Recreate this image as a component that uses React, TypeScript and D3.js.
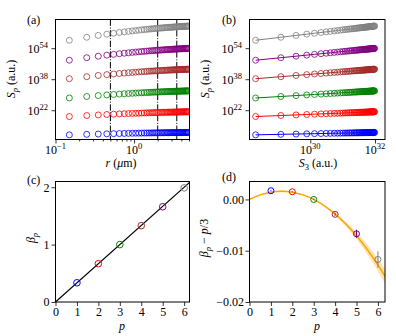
import React, { useEffect, useRef } from "react";
import * as d3 from "d3";

const WIDTH = 396;
const HEIGHT = 336;
const FONT = "'Liberation Serif', 'DejaVu Serif', serif";

// separations r (µm)
const rValues = [
  0.15, 0.25, 0.35, 0.45, 0.55, 0.65, 0.75, 0.85, 0.95,
  1.05, 1.15, 1.25, 1.35, 1.45, 1.55, 1.65, 1.75, 1.85, 1.95,
  2.05, 2.15, 2.25, 2.35, 2.45, 2.55, 2.65, 2.75, 2.85, 2.95,
  3.05, 3.15, 3.25, 3.35, 3.45, 3.55, 3.65, 3.75, 3.85, 3.95,
  4.05, 4.15, 4.25, 4.35, 4.45, 4.55, 4.65, 4.75, 4.85, 4.95,
];

// log10 S_p (a.u.), p = 1..6
const logS1 = [
  9.3, 9.57, 9.72, 9.83, 9.91, 9.98, 10.03, 10.08, 10.12,
  10.15, 10.18, 10.21, 10.23, 10.25, 10.27, 10.29, 10.31, 10.32, 10.34,
  10.35, 10.36, 10.37, 10.38, 10.39, 10.4, 10.41, 10.42, 10.43, 10.44,
  10.44, 10.45, 10.46, 10.46, 10.47, 10.47, 10.48, 10.49, 10.49, 10.5,
  10.5, 10.5, 10.51, 10.51, 10.52, 10.52, 10.52, 10.53, 10.53, 10.54,
];
const logS2 = [
  18.75, 19.27, 19.58, 19.8, 19.96, 20.1, 20.2, 20.29, 20.37,
  20.44, 20.5, 20.55, 20.6, 20.64, 20.68, 20.71, 20.74, 20.78, 20.8,
  20.83, 20.85, 20.88, 20.9, 20.92, 20.94, 20.96, 20.97, 20.99, 21.01,
  21.02, 21.03, 21.05, 21.06, 21.07, 21.08, 21.09, 21.11, 21.11, 21.13,
  21.13, 21.14, 21.15, 21.16, 21.17, 21.17, 21.18, 21.19, 21.19, 21.21,
];
const logS3 = [
  28.31, 29.09, 29.56, 29.89, 30.13, 30.33, 30.49, 30.62, 30.74,
  30.84, 30.93, 31.01, 31.08, 31.14, 31.2, 31.25, 31.3, 31.35, 31.39,
  31.43, 31.46, 31.5, 31.53, 31.56, 31.59, 31.62, 31.64, 31.67, 31.69,
  31.71, 31.73, 31.75, 31.77, 31.79, 31.8, 31.82, 31.84, 31.85, 31.87,
  31.88, 31.89, 31.91, 31.92, 31.93, 31.94, 31.95, 31.96, 31.97, 31.99,
];
const logS4 = [
  38.26, 39.3, 39.93, 40.37, 40.69, 40.95, 41.16, 41.34, 41.5,
  41.63, 41.75, 41.86, 41.95, 42.03, 42.11, 42.18, 42.24, 42.31, 42.36,
  42.41, 42.45, 42.51, 42.55, 42.59, 42.63, 42.67, 42.69, 42.73, 42.76,
  42.79, 42.81, 42.84, 42.87, 42.89, 42.91, 42.93, 42.96, 42.97, 43.0,
  43.01, 43.03, 43.05, 43.07, 43.08, 43.09, 43.11, 43.12, 43.13, 43.16,
];
const logS5 = [
  47.8, 49.09, 49.87, 50.42, 50.82, 51.15, 51.41, 51.63, 51.83,
  52.0, 52.14, 52.28, 52.39, 52.49, 52.59, 52.68, 52.76, 52.84, 52.91,
  52.97, 53.02, 53.09, 53.14, 53.19, 53.24, 53.29, 53.32, 53.37, 53.41,
  53.44, 53.47, 53.51, 53.54, 53.57, 53.59, 53.62, 53.66, 53.67, 53.7,
  53.72, 53.74, 53.77, 53.79, 53.8, 53.82, 53.84, 53.85, 53.87, 53.9,
];
const logS6 = [
  58.09, 59.64, 60.58, 61.23, 61.71, 62.11, 62.43, 62.68, 62.92,
  63.12, 63.3, 63.46, 63.6, 63.72, 63.84, 63.94, 64.04, 64.14, 64.22,
  64.3, 64.36, 64.43, 64.49, 64.55, 64.61, 64.67, 64.71, 64.77, 64.81,
  64.85, 64.89, 64.93, 64.97, 65.01, 65.03, 65.07, 65.11, 65.13, 65.17,
  65.19, 65.21, 65.25, 65.27, 65.29, 65.31, 65.33, 65.35, 65.37, 65.41,
];

const orders = [1, 2, 3, 4, 5, 6];
const orderColors = ["#0000ff", "#ff0000", "#008000", "#a52a2a", "#800080", "#808080"];

// scaling exponents
const betaValues = [0.335, 0.6682, 1.0, 1.3304, 1.66, 1.9883];
const betaDeviation = [0.0017, 0.0015, 0.0, -0.0029, -0.0067, -0.0117];
const betaDeviationErr = [0.0001, 0.0001, 0.00015, 0.0003, 0.0008, 0.0016];

// vertical dash-dot markers in (a)
const markerR = [0.5, 2, 3.5];

// K41 reference line in (c)
const k41P = [0, 6.3];
const k41Beta = [0, 2.1];

// fit of the deviation in (d)
const fitP = [0, 0.5, 1, 1.5, 2, 2.5, 3, 3.5, 4, 4.5, 5, 5.5, 6, 6.5];
const fitMid = [0, 0.00089, 0.00142, 0.0016, 0.00142, 0.00089, 0, -0.00124, -0.00284, -0.00479, -0.0071, -0.00976, -0.01278, -0.01615];
const fitLow = [-0.0001, 0.00077, 0.00129, 0.00145, 0.00129, 0.00077, -0.00012, -0.00136, -0.00311, -0.00524, -0.00777, -0.01068, -0.01398, -0.01767];
const fitHigh = [0.0001, 0.00101, 0.00155, 0.00175, 0.00155, 0.00101, 0.00012, -0.00112, -0.00257, -0.00434, -0.00643, -0.00884, -0.01158, -0.01463];

const expTicksS = [22, 38, 54];
const expTicksR = [-1, 0];
const expTicksS3 = [30, 32];
const ticksP = [0, 1, 2, 3, 4, 5, 6];
const ticksBeta = [0, 1, 2];
const ticksDev = [0, -0.01, -0.02];

type Sel = d3.Selection<any, any, any, any>;

function styleAxis(g: Sel) {
  g.select(".domain").remove();
  g.selectAll(".tick line").attr("stroke", "#000").attr("stroke-width", 0.8);
  g.selectAll(".tick text").attr("fill", "#000").attr("font-family", FONT).attr("font-size", 12);
}

function powLabel(g: Sel, x: number, y: number, exp: number, anchor: string) {
  const t = g
    .append("text")
    .attr("x", x)
    .attr("y", y)
    .attr("text-anchor", anchor)
    .attr("font-family", FONT)
    .attr("font-size", 12)
    .attr("fill", "#000");
  t.append("tspan").text("10");
  t.append("tspan").attr("dy", -5).attr("font-size", 8.5).text(exp < 0 ? `\u2212${-exp}` : `${exp}`);
}

function frame(g: Sel, x: any, y: any) {
  const [x0, x1] = x.range();
  const [y0, y1] = y.range();
  g.append("rect")
    .attr("x", x0)
    .attr("y", y1)
    .attr("width", x1 - x0)
    .attr("height", y0 - y1)
    .attr("fill", "none")
    .attr("stroke", "#000")
    .attr("stroke-width", 1);
}

function clip(svg: Sel, id: string, x: any, y: any) {
  const [x0, x1] = x.range();
  const [y0, y1] = y.range();
  svg.append("clipPath").attr("id", id).append("rect")
    .attr("x", x0).attr("y", y1).attr("width", x1 - x0).attr("height", y0 - y1);
}

function panelLabel(g: Sel, x: number, y: number, s: string) {
  g.append("text").attr("x", x).attr("y", y).attr("font-family", FONT).attr("font-size", 12).text(s);
}

export default function App() {
  const ref = useRef<SVGSVGElement>(null);

  useEffect(() => {
    if (!ref.current) return;
    const svg = d3.select(ref.current);
    svg.selectAll("*").remove();
    const series = [logS1, logS2, logS3, logS4, logS5, logS6];

    // ---------- (a) S_p vs r ----------
    const xA = d3.scaleLog().domain([0.1, 5.08]).range([55.5, 189.5]);
    const yA = d3.scaleLog().domain([10 ** 6.9, 10 ** 68.8]).range([139.5, 19.5]);
    clip(svg, "clipA", xA, yA);
    const gA = svg.append("g");
    const inA = gA.append("g").attr("clip-path", "url(#clipA)");

    inA.selectAll("line.mark")
      .data(markerR)
      .join("line")
      .attr("x1", (d) => xA(d))
      .attr("x2", (d) => xA(d))
      .attr("y1", 19.5)
      .attr("y2", 139.5)
      .attr("stroke", "#000")
      .attr("stroke-width", 1)
      .attr("stroke-dasharray", "6.4,1.6,1,1.6");

    series.forEach((s, k) => {
      inA.append("g")
        .selectAll("circle")
        .data(s)
        .join("circle")
        .attr("cx", (_, i) => xA(rValues[i]))
        .attr("cy", (d) => yA(10 ** d))
        .attr("r", 3)
        .attr("fill", "none")
        .attr("stroke", orderColors[k])
        .attr("stroke-width", 0.8);
    });
    frame(gA, xA, yA);

    const minorR = xA.ticks().filter((t) => ![0.1, 1].includes(+t.toFixed(6)));
    gA.append("g")
      .attr("transform", "translate(0,139.5)")
      .call(d3.axisBottom(xA).tickValues(minorR).tickSize(2).tickFormat(() => ""))
      .call(styleAxis);
    gA.append("g")
      .attr("transform", "translate(0,139.5)")
      .call(d3.axisBottom(xA).tickValues(expTicksR.map((e) => 10 ** e)).tickSize(4).tickFormat(() => ""))
      .call(styleAxis);
    expTicksR.forEach((e) => powLabel(gA, xA(10 ** e), 154, e, "middle"));
    gA.append("g")
      .attr("transform", "translate(55.5,0)")
      .call(d3.axisLeft(yA).tickValues(expTicksS.map((e) => 10 ** e)).tickSize(4).tickFormat(() => ""))
      .call(styleAxis);
    expTicksS.forEach((e) => powLabel(gA, 48, yA(10 ** e) + 5, e, "end"));

    const ylA = gA.append("text")
      .attr("transform", "translate(15,79) rotate(-90)")
      .attr("text-anchor", "middle")
      .attr("font-family", FONT)
      .attr("font-size", 12);
    ylA.append("tspan").attr("font-style", "italic").text("S");
    ylA.append("tspan").attr("font-style", "italic").attr("font-size", 8.5).attr("dy", 2.5).text("p");
    ylA.append("tspan").attr("dy", -2.5).text(" (a.u.)");

    const xlA = gA.append("text")
      .attr("x", 121)
      .attr("y", 167)
      .attr("text-anchor", "middle")
      .attr("font-family", FONT)
      .attr("font-size", 12);
    xlA.append("tspan").attr("font-style", "italic").text("r");
    xlA.append("tspan").text(" (");
    xlA.append("tspan").attr("font-style", "italic").text("\u03bc");
    xlA.append("tspan").text("m)");
    panelLabel(gA, 27, 24, "(a)");

    // ---------- (b) S_p vs S_3 ----------
    const xB = d3.scaleLog().domain([10 ** 28.12, 10 ** 32.31]).range([249.5, 385]);
    const yB = d3.scaleLog().domain([10 ** 6.9, 10 ** 68.8]).range([139.5, 19.5]);
    clip(svg, "clipB", xB, yB);
    const gB = svg.append("g");
    const inB = gB.append("g").attr("clip-path", "url(#clipB)");
    const lineB = d3.line<number>();
    series.forEach((s, k) => {
      inB.append("path")
        .attr("d", lineB.x((_, i) => xB(10 ** logS3[i])).y((d) => yB(10 ** d))(s))
        .attr("fill", "none")
        .attr("stroke", orderColors[k])
        .attr("stroke-width", 1);
      inB.append("g")
        .selectAll("circle")
        .data(s)
        .join("circle")
        .attr("cx", (_, i) => xB(10 ** logS3[i]))
        .attr("cy", (d) => yB(10 ** d))
        .attr("r", 3)
        .attr("fill", "none")
        .attr("stroke", orderColors[k])
        .attr("stroke-width", 0.8);
    });
    frame(gB, xB, yB);
    gB.append("g")
      .attr("transform", "translate(0,139.5)")
      .call(d3.axisBottom(xB).tickValues(expTicksS3.map((e) => 10 ** e)).tickSize(4).tickFormat(() => ""))
      .call(styleAxis);
    expTicksS3.forEach((e) => powLabel(gB, xB(10 ** e), 154, e, "middle"));
    gB.append("g")
      .attr("transform", "translate(249.5,0)")
      .call(d3.axisLeft(yB).tickValues(expTicksS.map((e) => 10 ** e)).tickSize(4).tickFormat(() => ""))
      .call(styleAxis);
    expTicksS.forEach((e) => powLabel(gB, 242, yB(10 ** e) + 5, e, "end"));

    const ylB = gB.append("text")
      .attr("transform", "translate(209,79) rotate(-90)")
      .attr("text-anchor", "middle")
      .attr("font-family", FONT)
      .attr("font-size", 12);
    ylB.append("tspan").attr("font-style", "italic").text("S");
    ylB.append("tspan").attr("font-style", "italic").attr("font-size", 8.5).attr("dy", 2.5).text("p");
    ylB.append("tspan").attr("dy", -2.5).text(" (a.u.)");

    const xlB = gB.append("text")
      .attr("x", 318)
      .attr("y", 167)
      .attr("text-anchor", "middle")
      .attr("font-family", FONT)
      .attr("font-size", 12);
    xlB.append("tspan").attr("font-style", "italic").text("S");
    xlB.append("tspan").attr("font-size", 8.5).attr("dy", 2.5).text("3");
    xlB.append("tspan").attr("dy", -2.5).text(" (a.u.)");
    panelLabel(gB, 222, 24, "(b)");

    // ---------- (c) beta_p vs p ----------
    const xC = d3.scaleLinear().domain([0, 6.25]).range([55.5, 189.5]);
    const yC = d3.scaleLinear().domain([0, 2.1]).range([302, 181.5]);
    clip(svg, "clipC", xC, yC);
    const gC = svg.append("g");
    const inC = gC.append("g").attr("clip-path", "url(#clipC)");
    inC.append("path")
      .attr("d", d3.line<number>().x((d) => xC(d)).y((_, i) => yC(k41Beta[i]))(k41P))
      .attr("stroke", "#000")
      .attr("stroke-width", 1.2)
      .attr("fill", "none");
    inC.selectAll("circle")
      .data(orders)
      .join("circle")
      .attr("cx", (d) => xC(d))
      .attr("cy", (_, i) => yC(betaValues[i]))
      .attr("r", 3.3)
      .attr("fill", "none")
      .attr("stroke", (_, i) => orderColors[i])
      .attr("stroke-width", 1);
    frame(gC, xC, yC);
    gC.append("g")
      .attr("transform", "translate(0,302)")
      .call(d3.axisBottom(xC).tickValues(ticksP).tickSize(4).tickPadding(1.5).tickFormat(d3.format("d")))
      .call(styleAxis);
    gC.append("g")
      .attr("transform", "translate(55.5,0)")
      .call(d3.axisLeft(yC).tickValues(ticksBeta).tickSize(4).tickPadding(2).tickFormat(d3.format("d")))
      .call(styleAxis);
    const ylC = gC.append("text")
      .attr("transform", "translate(35,238) rotate(-90)")
      .attr("text-anchor", "middle")
      .attr("font-family", FONT)
      .attr("font-size", 12);
    ylC.append("tspan").attr("font-style", "italic").text("\u03b2");
    ylC.append("tspan").attr("font-style", "italic").attr("font-size", 8.5).attr("dy", 2.5).text("p");
    gC.append("text")
      .attr("x", 122)
      .attr("y", 329.5)
      .attr("text-anchor", "middle")
      .attr("font-family", FONT)
      .attr("font-style", "italic")
      .attr("font-size", 12)
      .text("p");
    panelLabel(gC, 27, 184, "(c)");

    // ---------- (d) beta_p - p/3 vs p ----------
    const xD = d3.scaleLinear().domain([0, 6.33]).range([249.5, 385]);
    const yD = d3.scaleLinear().domain([-0.02, 0.0035]).range([302, 181.5]);
    clip(svg, "clipD", xD, yD);
    const gD = svg.append("g");
    const inD = gD.append("g").attr("clip-path", "url(#clipD)");
    inD.append("path")
      .attr(
        "d",
        d3.area<number>()
          .x((d) => xD(d))
          .y0((_, i) => yD(fitLow[i]))
          .y1((_, i) => yD(fitHigh[i]))
          .curve(d3.curveMonotoneX)(fitP)
      )
      .attr("fill", "#ffa500")
      .attr("fill-opacity", 0.3);
    inD.append("path")
      .attr(
        "d",
        d3.line<number>()
          .x((d) => xD(d))
          .y((_, i) => yD(fitMid[i]))
          .curve(d3.curveMonotoneX)(fitP)
      )
      .attr("fill", "none")
      .attr("stroke", "#ffa500")
      .attr("stroke-width", 1.5);
    inD.selectAll("line.err")
      .data(orders)
      .join("line")
      .attr("x1", (d) => xD(d))
      .attr("x2", (d) => xD(d))
      .attr("y1", (_, i) => yD(betaDeviation[i] - betaDeviationErr[i]))
      .attr("y2", (_, i) => yD(betaDeviation[i] + betaDeviationErr[i]))
      .attr("stroke", (_, i) => orderColors[i])
      .attr("stroke-width", 1);
    inD.selectAll("circle")
      .data(orders)
      .join("circle")
      .attr("cx", (d) => xD(d))
      .attr("cy", (_, i) => yD(betaDeviation[i]))
      .attr("r", 3)
      .attr("fill", "none")
      .attr("stroke", (_, i) => orderColors[i])
      .attr("stroke-width", 1);
    frame(gD, xD, yD);
    gD.append("g")
      .attr("transform", "translate(0,302)")
      .call(d3.axisBottom(xD).tickValues(ticksP).tickSize(4).tickPadding(1.5).tickFormat(d3.format("d")))
      .call(styleAxis);
    gD.append("g")
      .attr("transform", "translate(249.5,0)")
      .call(d3.axisLeft(yD).tickValues(ticksDev).tickSize(4).tickPadding(1.5).tickFormat(d3.format(".2f")))
      .call(styleAxis);
    const ylD = gD.append("text")
      .attr("transform", "translate(208,238) rotate(-90)")
      .attr("text-anchor", "middle")
      .attr("font-family", FONT)
      .attr("font-size", 12);
    ylD.append("tspan").attr("font-style", "italic").text("\u03b2");
    ylD.append("tspan").attr("font-style", "italic").attr("font-size", 8.5).attr("dy", 2.5).text("p");
    ylD.append("tspan").attr("dy", -2.5).text(" \u2212 ");
    ylD.append("tspan").attr("font-style", "italic").text("p");
    ylD.append("tspan").text("/3");
    gD.append("text")
      .attr("x", 317)
      .attr("y", 329.5)
      .attr("text-anchor", "middle")
      .attr("font-family", FONT)
      .attr("font-style", "italic")
      .attr("font-size", 12)
      .text("p");
    panelLabel(gD, 222, 181, "(d)");
  }, []);

  return (
    <svg
      ref={ref}
      width={WIDTH}
      height={HEIGHT}
      style={{ position: "absolute", left: 0, top: 0, background: "#fff" }}
    />
  );
}
